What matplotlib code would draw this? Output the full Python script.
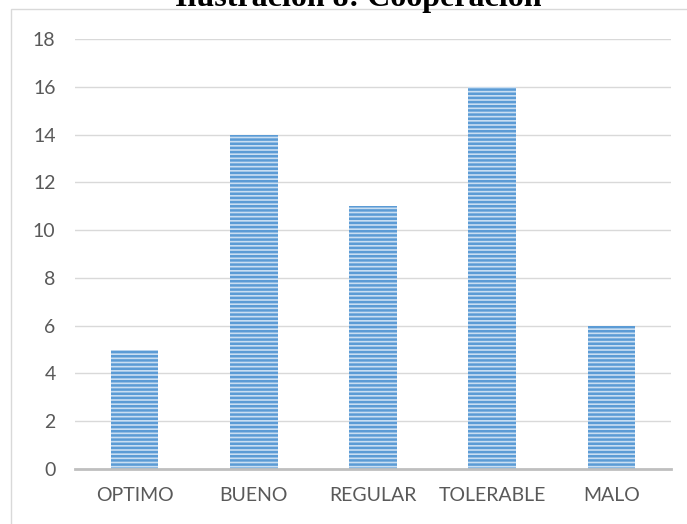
import matplotlib.pyplot as plt
from matplotlib.patches import Rectangle

categorias = ["OPTIMO", "BUENO", "REGULAR", "TOLERABLE", "MALO"]
valores = [5, 14, 11, 16, 6]
ticks_y = [0, 2, 4, 6, 8, 10, 12, 14, 16, 18]
titulo = "Ilustración 8: Cooperación"

plt.rcParams['hatch.linewidth'] = 1.8

fig = plt.figure(figsize=(6.87, 5.24), dpi=100)
W, H = 687, 524
ax = fig.add_axes([75 / W, 1 - 469 / H, (671 - 75) / W, (469 - 39) / H])

# Marco del gráfico
fig.patches.append(Rectangle((11 / W, -0.1), 1.0, 1 - 9 / H + 0.1, transform=fig.transFigure,
                             fill=False, edgecolor='#D9D9D9', linewidth=1))

x = range(len(categorias))
# el color de la trama sigue al edgecolor
ax.bar(x, valores, width=0.4, color='#C9DEF2', hatch='----', edgecolor='#5B9BD5',
       linewidth=0, zorder=3)

ax.set_xlim(-0.5, len(categorias) - 0.5)
ax.set_ylim(0, 18)
ax.set_yticks(ticks_y)
ax.set_xticks(list(x))
ax.set_xticklabels(categorias)
ax.yaxis.grid(True, color='#D9D9D9', linewidth=1)
ax.set_axisbelow(True)
for s in ['top', 'right', 'left']:
    ax.spines[s].set_visible(False)
ax.spines['bottom'].set_color('#BFBFBF')
ax.spines['bottom'].set_linewidth(2)
ax.spines['bottom'].set_zorder(4)
ax.tick_params(axis='both', length=0, labelcolor='#595959', labelsize=14)
ax.tick_params(axis='y', pad=14)
ax.tick_params(axis='x', pad=13)
for lbl in ax.get_xticklabels() + ax.get_yticklabels():
    lbl.set_fontfamily('Lato')

fig.text(358 / W, 1 - 6 / H, titulo, ha='center', va='baseline', fontsize=23,
         fontweight='bold', family='Liberation Serif')

fig.savefig('out.png', dpi=100)
